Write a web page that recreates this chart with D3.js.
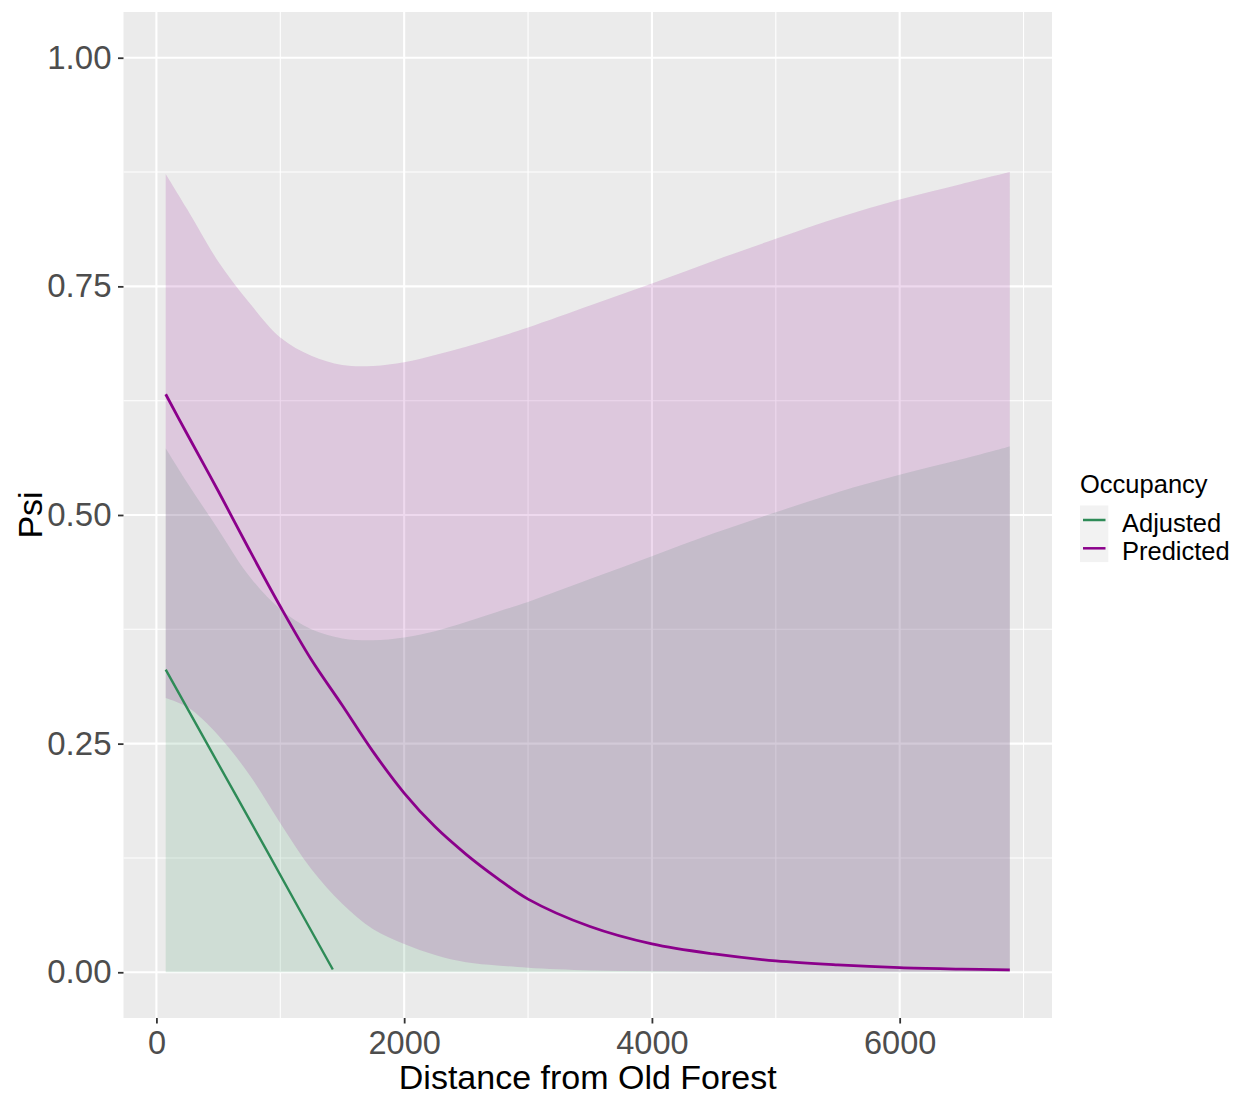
<!DOCTYPE html>
<html>
<head>
<meta charset="utf-8">
<script src="https://cdn.jsdelivr.net/npm/d3@7"></script>
<style>
  body { margin: 0; background: #ffffff; }
  svg { display: block; font-family: "Liberation Sans", Arial, sans-serif; }
</style>
</head>
<body>
<div id="plot"></div>
<script>
// Distance from old forest where the curves were sampled
const distance = [75, 250, 500, 750, 1000, 1250, 1500, 1750, 2000, 2250, 2500, 2750,
                  3000, 3500, 4000, 4500, 5000, 5500, 6000, 6500, 6889];

// Predicted occupancy and its ribbon
const predicted = [0.632, 0.588, 0.526, 0.462, 0.400, 0.342, 0.292, 0.241, 0.196, 0.159, 0.129, 0.103,
                   0.080, 0.050, 0.031, 0.020, 0.0124, 0.008, 0.005, 0.0035, 0.0026];
const predLower = [0.300, 0.290, 0.259, 0.216, 0.163, 0.113, 0.075, 0.047, 0.031, 0.019, 0.011, 0.0075,
                   0.005, 0.002, 0.001, 0.0005, 0.0005, 0.0005, 0.0005, 0.0005, 0.0005];
const predUpper = [0.873, 0.834, 0.777, 0.732, 0.694, 0.674, 0.664, 0.663, 0.667, 0.675, 0.684, 0.694,
                   0.705, 0.729, 0.753, 0.778, 0.802, 0.825, 0.845, 0.862, 0.875];

// Adjusted occupancy ribbon
const adjLower = [0, 0, 0, 0, 0, 0, 0, 0, 0, 0, 0, 0, 0, 0, 0, 0, 0, 0, 0, 0, 0];
const adjUpper = [0.573, 0.535, 0.484, 0.433, 0.397, 0.375, 0.365, 0.363, 0.366, 0.373, 0.383, 0.394,
                  0.405, 0.430, 0.455, 0.480, 0.503, 0.525, 0.544, 0.561, 0.575];

// Adjusted occupancy line (stops where it reaches zero)
const adjDistance = [75, 431, 648, 891, 1161, 1424];
const adjusted = [0.331, 0.2445, 0.192, 0.133, 0.067, 0.003];

// Axis ticks and legend
const xTicks = [0, 2000, 4000, 6000];
const xMinor = [1000, 3000, 5000, 7000];
const yTicks = [0, 0.25, 0.5, 0.75, 1];
const yMinor = [0.125, 0.375, 0.625, 0.875];
const legendLabels = ["Adjusted", "Predicted"];
const legendColors = ["#2E8B57", "#8B008B"];

function drawChart() {
  const width = 1236, height = 1095;
  const panel = { left: 123.5, right: 1052, top: 12, bottom: 1018 };

  const svg = d3.select("#plot")
      .append("svg")
      .attr("width", width)
      .attr("height", height);

  // ggplot style 5% expansion of the data range
  const xExt = d3.extent(distance);
  const xPad = (xExt[1] - xExt[0]) * 0.05;
  const x = d3.scaleLinear()
      .domain([xExt[0] - xPad, xExt[1] + xPad])
      .range([panel.left, panel.right]);

  const y = d3.scaleLinear()
      .domain([-0.05, 1.05])
      .range([panel.bottom, panel.top]);

  // Panel background
  svg.append("rect")
      .attr("x", panel.left)
      .attr("y", panel.top)
      .attr("width", panel.right - panel.left)
      .attr("height", panel.bottom - panel.top)
      .attr("fill", "#EBEBEB");

  // Grid lines
  const grid = svg.append("g");
  grid.selectAll(".vminor").data(xMinor).enter().append("line")
      .attr("x1", d => x(d)).attr("x2", d => x(d))
      .attr("y1", panel.top).attr("y2", panel.bottom)
      .attr("stroke", "white").attr("stroke-width", 1.1);
  grid.selectAll(".hminor").data(yMinor).enter().append("line")
      .attr("x1", panel.left).attr("x2", panel.right)
      .attr("y1", d => y(d)).attr("y2", d => y(d))
      .attr("stroke", "white").attr("stroke-width", 1.1);
  grid.selectAll(".vmajor").data(xTicks).enter().append("line")
      .attr("x1", d => x(d)).attr("x2", d => x(d))
      .attr("y1", panel.top).attr("y2", panel.bottom)
      .attr("stroke", "white").attr("stroke-width", 2.1);
  grid.selectAll(".hmajor").data(yTicks).enter().append("line")
      .attr("x1", panel.left).attr("x2", panel.right)
      .attr("y1", d => y(d)).attr("y2", d => y(d))
      .attr("stroke", "white").attr("stroke-width", 2.1);

  // Ribbons
  const ribbon = (lo, hi) => d3.area()
      .x((d, i) => x(distance[i]))
      .y0((d, i) => y(lo[i]))
      .y1((d, i) => y(hi[i]))
      .curve(d3.curveCatmullRom.alpha(0.5));

  svg.append("path")
      .datum(distance)
      .attr("fill", "#2E8B57")
      .attr("fill-opacity", 0.15)
      .attr("d", ribbon(adjLower, adjUpper));

  svg.append("path")
      .datum(distance)
      .attr("fill", "#8B008B")
      .attr("fill-opacity", 0.15)
      .attr("d", ribbon(predLower, predUpper));

  // Lines
  svg.append("path")
      .datum(adjusted)
      .attr("fill", "none")
      .attr("stroke", "#2E8B57")
      .attr("stroke-width", 2.4)
      .attr("d", d3.line()
          .x((d, i) => x(adjDistance[i]))
          .y(d => y(d)));

  svg.append("path")
      .datum(predicted)
      .attr("fill", "none")
      .attr("stroke", "#8B008B")
      .attr("stroke-width", 2.8)
      .attr("d", d3.line()
          .x((d, i) => x(distance[i]))
          .y(d => y(d))
          .curve(d3.curveCatmullRom.alpha(0.5)));

  // Axes
  svg.append("g")
      .attr("transform", `translate(0,${panel.bottom})`)
      .call(d3.axisBottom(x).tickValues(xTicks).tickFormat(d3.format("d")).tickSize(5.5).tickPadding(7))
      .call(g => g.select(".domain").remove())
      .call(g => g.selectAll(".tick line").attr("stroke", "#333333").attr("stroke-width", 1.8))
      .call(g => g.selectAll(".tick text")
          .attr("fill", "#4D4D4D")
          .style("font-size", "32.5px")
          .style("font-family", "'Liberation Sans', Arial, sans-serif"));

  svg.append("g")
      .attr("transform", `translate(${panel.left},0)`)
      .call(d3.axisLeft(y).tickValues(yTicks).tickFormat(d3.format(".2f")).tickSize(5.5).tickPadding(6.5))
      .call(g => g.select(".domain").remove())
      .call(g => g.selectAll(".tick line").attr("stroke", "#333333").attr("stroke-width", 1.8))
      .call(g => g.selectAll(".tick text")
          .attr("fill", "#4D4D4D")
          .style("font-size", "33px")
          .style("font-family", "'Liberation Sans', Arial, sans-serif"));

  // Axis titles
  svg.append("text")
      .attr("x", (panel.left + panel.right) / 2)
      .attr("y", 1088.5)
      .attr("text-anchor", "middle")
      .style("font-size", "34px")
      .attr("fill", "black")
      .text("Distance from Old Forest");

  svg.append("text")
      .attr("transform", `translate(42,${(panel.top + panel.bottom) / 2}) rotate(-90)`)
      .attr("text-anchor", "middle")
      .style("font-size", "34px")
      .attr("fill", "black")
      .text("Psi");

  // Legend
  const legend = svg.append("g");
  legend.append("text")
      .attr("x", 1080)
      .attr("y", 493)
      .style("font-size", "25.5px")
      .attr("fill", "black")
      .text("Occupancy");

  legend.append("rect")
      .attr("x", 1080)
      .attr("y", 505.5)
      .attr("width", 28.3)
      .attr("height", 56.6)
      .attr("fill", "#F2F2F2");

  legendLabels.forEach(function(label, i) {
    const cy = 520 + i * 28.3;
    legend.append("line")
        .attr("x1", 1083).attr("x2", 1105.5)
        .attr("y1", cy).attr("y2", cy)
        .attr("stroke", legendColors[i])
        .attr("stroke-width", 2.5);
    legend.append("text")
        .attr("x", 1122)
        .attr("y", cy + 11.5)
        .style("font-size", "25.5px")
        .attr("fill", "black")
        .text(label);
  });
}

drawChart();
</script>
</body>
</html>
